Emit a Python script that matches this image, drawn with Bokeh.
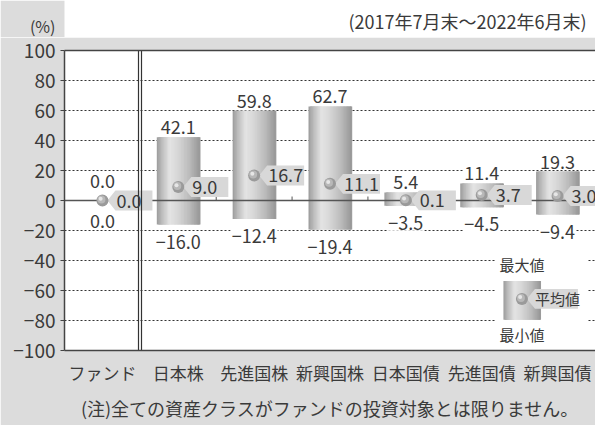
from bokeh.plotting import figure
from bokeh.layouts import column
from bokeh.models import (ColumnDataSource, FixedTicker, LinearAxis, Title, Range1d)
from bokeh.core.properties import value
from bokeh.embed import file_html
from bokeh.resources import INLINE

# ---- data ----
categories = ["ファンド", "日本株", "先進国株", "新興国株", "日本国債", "先進国債", "新興国債"]
max_values = [0.0, 42.1, 59.8, 62.7, 5.4, 11.4, 19.3]
avg_values = [0.0, 9.0, 16.7, 11.1, 0.1, 3.7, 3.0]
min_values = [0.0, -16.0, -12.4, -19.4, -3.5, -4.5, -9.4]
y_ticks = [-100, -80, -60, -40, -20, 0, 20, 40, 60, 80, 100]
period_text = "(2017年7月末～2022年6月末)"
unit_text = "(%)"
note_text = "(注)全ての資産クラスがファンドの投資対象とは限りません。"
legend_texts = ["最大値", "平均値", "最小値"]

FONT = "Noto Sans CJK JP"
TXT = "#3a3a3a"
BG = "#dcdcdc"
W, H = 595, 425
HEAD_H = 37
LEFT, TOP, BOTTOM = 64, 13, 73
MAIN_H = H - HEAD_H
SX = (W - LEFT) / 7.0
SY = (MAIN_H - TOP - BOTTOM) / 200.0

def fmt(v):
    s = f"{abs(v):.1f}"
    return ("−" + s) if v < 0 else s

# ---- header strip (unit and period texts); y counts up from the strip bottom ----
head = figure(width=W, height=HEAD_H, x_range=Range1d(LEFT, W), y_range=Range1d(0, HEAD_H),
              output_backend="svg", toolbar_location=None,
              min_border_left=LEFT, min_border_right=0, min_border_top=0, min_border_bottom=0,
              x_axis_location=None, y_axis_location=None)
head.background_fill_color = None
head.border_fill_color = BG
head.outline_line_color = None
head.grid.grid_line_color = None
UNIT_Y = HEAD_H - 25
unit_ax = LinearAxis(ticker=FixedTicker(ticks=[UNIT_Y]))
unit_ax.major_label_overrides = {UNIT_Y: unit_text}
unit_ax.major_label_text_font = FONT
unit_ax.major_label_text_font_size = "16px"
unit_ax.major_label_text_color = TXT
unit_ax.axis_line_color = None
unit_ax.major_tick_line_color = None
unit_ax.minor_tick_line_color = None
unit_ax.major_tick_out = 0
unit_ax.major_tick_in = 0
unit_ax.major_label_standoff = 9
head.add_layout(unit_ax, "left")
head.text(x=[586], y=[HEAD_H - 20], text=[period_text], text_font=value(FONT),
          text_font_size="18px", text_color=TXT, text_align="right", text_baseline="middle")

# ---- main chart ----
p = figure(width=W, height=MAIN_H, x_range=(0, 7), y_range=(-100, 100),
           output_backend="svg", toolbar_location=None,
           min_border_left=LEFT, min_border_right=0, min_border_top=TOP,
           min_border_bottom=BOTTOM, x_axis_location=None, y_axis_location=None)
p.background_fill_color = "white"
p.border_fill_color = BG
p.outline_line_color = None

yax = LinearAxis(ticker=FixedTicker(ticks=y_ticks))
yax.major_label_overrides = {t: ("−" + str(abs(t)) if t < 0 else str(t)) for t in y_ticks}
yax.major_label_text_font = FONT
yax.major_label_text_font_size = "19px"
yax.major_label_text_color = TXT
yax.axis_line_color = "#444"
yax.axis_line_width = 1.5
yax.major_tick_line_color = "#444"
yax.major_tick_out = 4
yax.major_tick_in = 0
yax.minor_tick_line_color = None
yax.major_label_standoff = 5
p.add_layout(yax, "left")

cat_pos = [i + 0.5 for i in range(len(categories))]
xax = LinearAxis(ticker=FixedTicker(ticks=cat_pos))
xax.major_label_overrides = {c: n for c, n in zip(cat_pos, categories)}
xax.major_label_text_font = FONT
xax.major_label_text_font_size = "17px"
xax.major_label_text_color = TXT
xax.axis_line_color = "#444"
xax.axis_line_width = 1.5
xax.major_tick_line_color = None
xax.minor_tick_line_color = None
xax.major_label_standoff = 3
p.add_layout(xax, "below")

top_ax = LinearAxis(ticker=FixedTicker(ticks=[]))
top_ax.axis_line_color = "#444"
top_ax.axis_line_width = 1.5
top_ax.major_tick_line_color = None
top_ax.minor_tick_line_color = None
top_ax.major_label_text_font_size = "0px"
top_ax.major_label_standoff = 0
p.add_layout(top_ax, "above")

p.xgrid.grid_line_color = None
p.ygrid.ticker = FixedTicker(ticks=y_ticks)
p.ygrid.grid_line_color = "#333"
p.ygrid.grid_line_dash = "2 2"
p.ygrid.grid_line_width = 1

# white box behind the legend
p.quad(left=[5.68], right=[6.89], bottom=[-98], top=[-32],
       fill_color="white", line_color=None)

stops = [(0.0, 0x9c), (0.12, 0xbc), (0.3, 0xe4), (0.5, 0xd6), (0.75, 0xbc), (1.0, 0x96)]
def gray(t):
    for (t0, g0), (t1, g1) in zip(stops[:-1], stops[1:]):
        if t0 <= t <= t1:
            g = int(round(g0 + (g1 - g0) * (t - t0) / (t1 - t0)))
            return "#%02x%02x%02x" % (g, g, g)
    return "#999999"

N = 30
def strips(centers, tops, bottoms, width):
    xs, ws, ts, bs, cs = [], [], [], [], []
    for c, t, b in zip(centers, tops, bottoms):
        if t == b:
            continue
        for k in range(N):
            f = (k + 0.5) / N
            left = c - width / 2 + k * width / N
            right = c + width / 2 if k == N - 1 else left + 2.5 * width / N
            xs.append((left + right) / 2)
            ws.append(right - left)
            ts.append(t)
            bs.append(b)
            cs.append(gray(f))
    return dict(x=xs, w=ws, top=ts, bottom=bs, color=cs)

BAR_W = 43 / SX
bar_src = ColumnDataSource(strips(cat_pos, max_values, min_values, BAR_W))
p.vbar(x="x", width="w", top="top", bottom="bottom", fill_color="color",
       line_color=None, source=bar_src)

LEG_X = 6.03
LEG_W = 37 / SX
LEG_TOP, LEG_MID, LEG_BOT = -53.6, -65.6, -79.5
leg_src = ColumnDataSource(strips([LEG_X], [LEG_TOP], [LEG_BOT], LEG_W))
p.vbar(x="x", width="w", top="top", bottom="bottom", fill_color="color",
       line_color=None, source=leg_src)

# zero line and boundary ticks
p.hspan(y=[0], line_color="#555", line_width=1.5)
bx = list(range(2, len(categories)))
p.segment(x0=bx, x1=bx, y0=[0] * len(bx), y1=[4 / SY] * len(bx),
          line_color="#555", line_width=1)

# average callouts
def callout(cx, cy, right_px=50):
    xs = [cx + 5 / SX, cx + 13 / SX, cx + right_px / SX, cx + right_px / SX, cx + 13 / SX]
    ys = [cy, cy + 10 / SY, cy + 10 / SY, cy - 10 / SY, cy - 10 / SY]
    return xs, ys

cxs, cys = [], []
for c, a in zip(cat_pos, avg_values):
    xs, ys = callout(c, a)
    cxs.append(xs); cys.append(ys)
lx, ly = callout(LEG_X, LEG_MID, 56)
cxs.append(lx); cys.append(ly)
p.patches(xs=cxs, ys=cys, fill_color="#d8d8d8", line_color=None)

# double separator line
p.vspan(x=[1 - 1.5 / SX, 1 + 1.5 / SX], line_color="#333", line_width=1.2)

# spheres
sph_x = cat_pos + [LEG_X]
sph_y = avg_values + [LEG_MID]
p.scatter(x=sph_x, y=sph_y, size=12, fill_color="#9a9a9a", line_color=None)
p.scatter(x=[x - 1 / SX for x in sph_x], y=[y + 1 / SY for y in sph_y], size=8,
          fill_color="#b8b8b8", line_color=None)
p.scatter(x=[x - 1.8 / SX for x in sph_x], y=[y + 1.8 / SY for y in sph_y], size=4,
          fill_color="#e6e6e6", line_color=None)

p.text(x=[c + 14 / SX for c in cat_pos], y=avg_values, text=[fmt(v) for v in avg_values],
       text_font=value(FONT), text_font_size="18px", text_color=TXT,
       text_align="left", text_baseline="middle")

max_off = [-10 - (10 if t == b else 0) for t, b in zip(max_values, min_values)]
min_off = [17 + (3 if t == b else 0) for t, b in zip(max_values, min_values)]
p.text(x=cat_pos, y=max_values, text=[fmt(v) for v in max_values],
       text_font=value(FONT), text_font_size="18px", text_color=TXT,
       text_align="center", text_baseline="alphabetic", y_offset=max_off,
       background_fill_color="white", padding=1)
p.text(x=cat_pos, y=min_values, text=[fmt(v) for v in min_values],
       text_font=value(FONT), text_font_size="18px", text_color=TXT,
       text_align="center", text_baseline="alphabetic", y_offset=min_off,
       background_fill_color="white", padding=1)

# legend texts
p.text(x=[LEG_X, LEG_X], y=[LEG_TOP, LEG_BOT], text=[legend_texts[0], legend_texts[2]],
       text_font=value(FONT), text_font_size="15px", text_color=TXT,
       text_align="center", text_baseline="middle", y_offset=[-16, 15])
p.text(x=[LEG_X + 13 / SX], y=[LEG_MID], text=[legend_texts[1]],
       text_font=value(FONT), text_font_size="15px", text_color=TXT,
       text_align="left", text_baseline="middle")

# note below
t_note = Title(text=note_text, align="center", text_font=FONT,
               text_font_size="18px", text_color=TXT, text_font_style="normal")
p.add_layout(t_note, "below")

layout = column(head, p, spacing=0)
open("out.html", "w").write(file_html(layout, INLINE))
